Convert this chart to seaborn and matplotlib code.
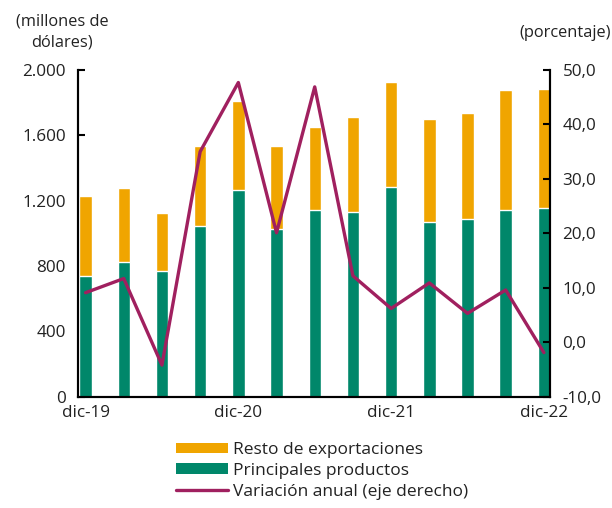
import numpy as np
import pandas as pd
import matplotlib
matplotlib.use("Agg")
import matplotlib.pyplot as plt
import seaborn as sns
from matplotlib.patches import Patch
from matplotlib.lines import Line2D

periods = ["dic-19", "mar-20", "jun-20", "sep-20", "dic-20", "mar-21", "jun-21",
           "sep-21", "dic-21", "mar-22", "jun-22", "sep-22", "dic-22"]
principales = [739, 826, 771, 1047, 1265, 1024, 1141, 1132, 1281, 1069, 1086, 1141, 1157]
resto = [489, 449, 351, 487, 543, 510, 509, 582, 645, 629, 652, 738, 728]
variacion = [9.1, 11.7, -4.2, 35.0, 47.7, 20.1, 46.9, 12.2, 6.2, 10.9, 5.3, 9.6, -1.9]
xlabels_shown = {"dic-19": "dic-19", "dic-20": "dic-20", "dic-21": "dic-21", "dic-22": "dic-22"}
left_ticks = [0, 400, 800, 1200, 1600, 2000]
right_ticks = [-10, 0, 10, 20, 30, 40, 50]

ORANGE = "#F0A500"
GREEN = "#00876A"
LINE = "#A0205F"
FONT = "Open Sans"
FS = 12.3

sns.set_theme(style="white")
plt.rcParams["font.family"] = [FONT, "DejaVu Sans"]

df = pd.DataFrame({"periodo": periods, "principales": principales, "resto": resto,
                   "variacion": variacion})
df["total"] = df["principales"] + df["resto"]
df["pos"] = np.arange(len(df))

fig = plt.figure(figsize=(6.12, 5.08), dpi=100)
ax = fig.add_axes([78.3 / 612, 1 - 396.7 / 508, (550 - 78.3) / 612, (396.7 - 70) / 508])

sns.barplot(data=df, x="periodo", y="total", color=ORANGE, width=0.325, ax=ax,
            saturation=1, order=periods)
sns.barplot(data=df, x="periodo", y="principales", color=GREEN, width=0.325, ax=ax,
            saturation=1, order=periods)

ax.set_ylim(0, 2000)
ax.set_xlim(-0.19, 12.16)
ax.set_yticks(left_ticks)
ax.set_yticklabels([f"{v:,}".replace(",", ".") for v in left_ticks])
ax.set_xticks(range(len(periods)))
ax.set_xticklabels([xlabels_shown.get(p, "") for p in periods])
ax.tick_params(axis="x", length=0, pad=6, labelsize=FS, colors="#222222")
ax.tick_params(axis="y", direction="in", length=5, width=1.5, pad=9, labelsize=FS,
               colors="#222222", color="black")
ax.set_xlabel("")
ax.set_ylabel("")
ax.set_xticks([3.84, 7.84, 11.84], minor=True)
ax.tick_params(axis="x", which="minor", direction="in", length=5, width=1.5, color="black")

for s in ["left", "right", "bottom"]:
    ax.spines[s].set_visible(True)
    ax.spines[s].set_color("black")
    ax.spines[s].set_linewidth(1.5)
ax.spines["top"].set_visible(False)

ax2 = ax.twinx()
sns.lineplot(data=df, x="pos", y="variacion", color=LINE, linewidth=2.4, ax=ax2)
ax2.set_ylim(-10, 50)
ax2.set_yticks(right_ticks)
ax2.set_yticklabels([f"{v:.1f}".replace(".", ",") for v in right_ticks])
ax2.tick_params(axis="y", direction="in", length=5, width=1.5, pad=9, labelsize=FS,
                colors="#222222", color="black")
ax2.set_ylabel("")
ax2.set_xlabel("")
for s in ["left", "right", "bottom"]:
    ax2.spines[s].set_color("black")
    ax2.spines[s].set_linewidth(1.5)
ax2.spines["top"].set_visible(False)
ax.set_xlim(-0.19, 12.16)
ax2.set_xlim(-0.19, 12.16)

fig.text(62 / 612, 1 - 32 / 508, "(millones de\ndólares)", ha="center", va="center",
         fontsize=FS - 0.5, color="#222222", linespacing=1.4)
fig.text(611 / 612, 1 - 33 / 508, "(porcentaje)", ha="right", va="center",
         fontsize=FS - 0.5, color="#222222")

handles = [Patch(facecolor=ORANGE, edgecolor="none"),
           Patch(facecolor=GREEN, edgecolor="none"),
           Line2D([0], [0], color=LINE, linewidth=2.4)]
labels = ["Resto de exportaciones", "Principales productos", "Variación anual (eje derecho)"]
fig.legend(handles, labels, loc="upper left", bbox_to_anchor=(176 / 612, 1 - 442 / 508),
           frameon=False, fontsize=FS + 0.2, handlelength=3.0, handleheight=0.55,
           handletextpad=0.3, labelspacing=0.28, borderaxespad=0, borderpad=0,
           labelcolor="#222222")

fig.savefig("out.png", dpi=100)
